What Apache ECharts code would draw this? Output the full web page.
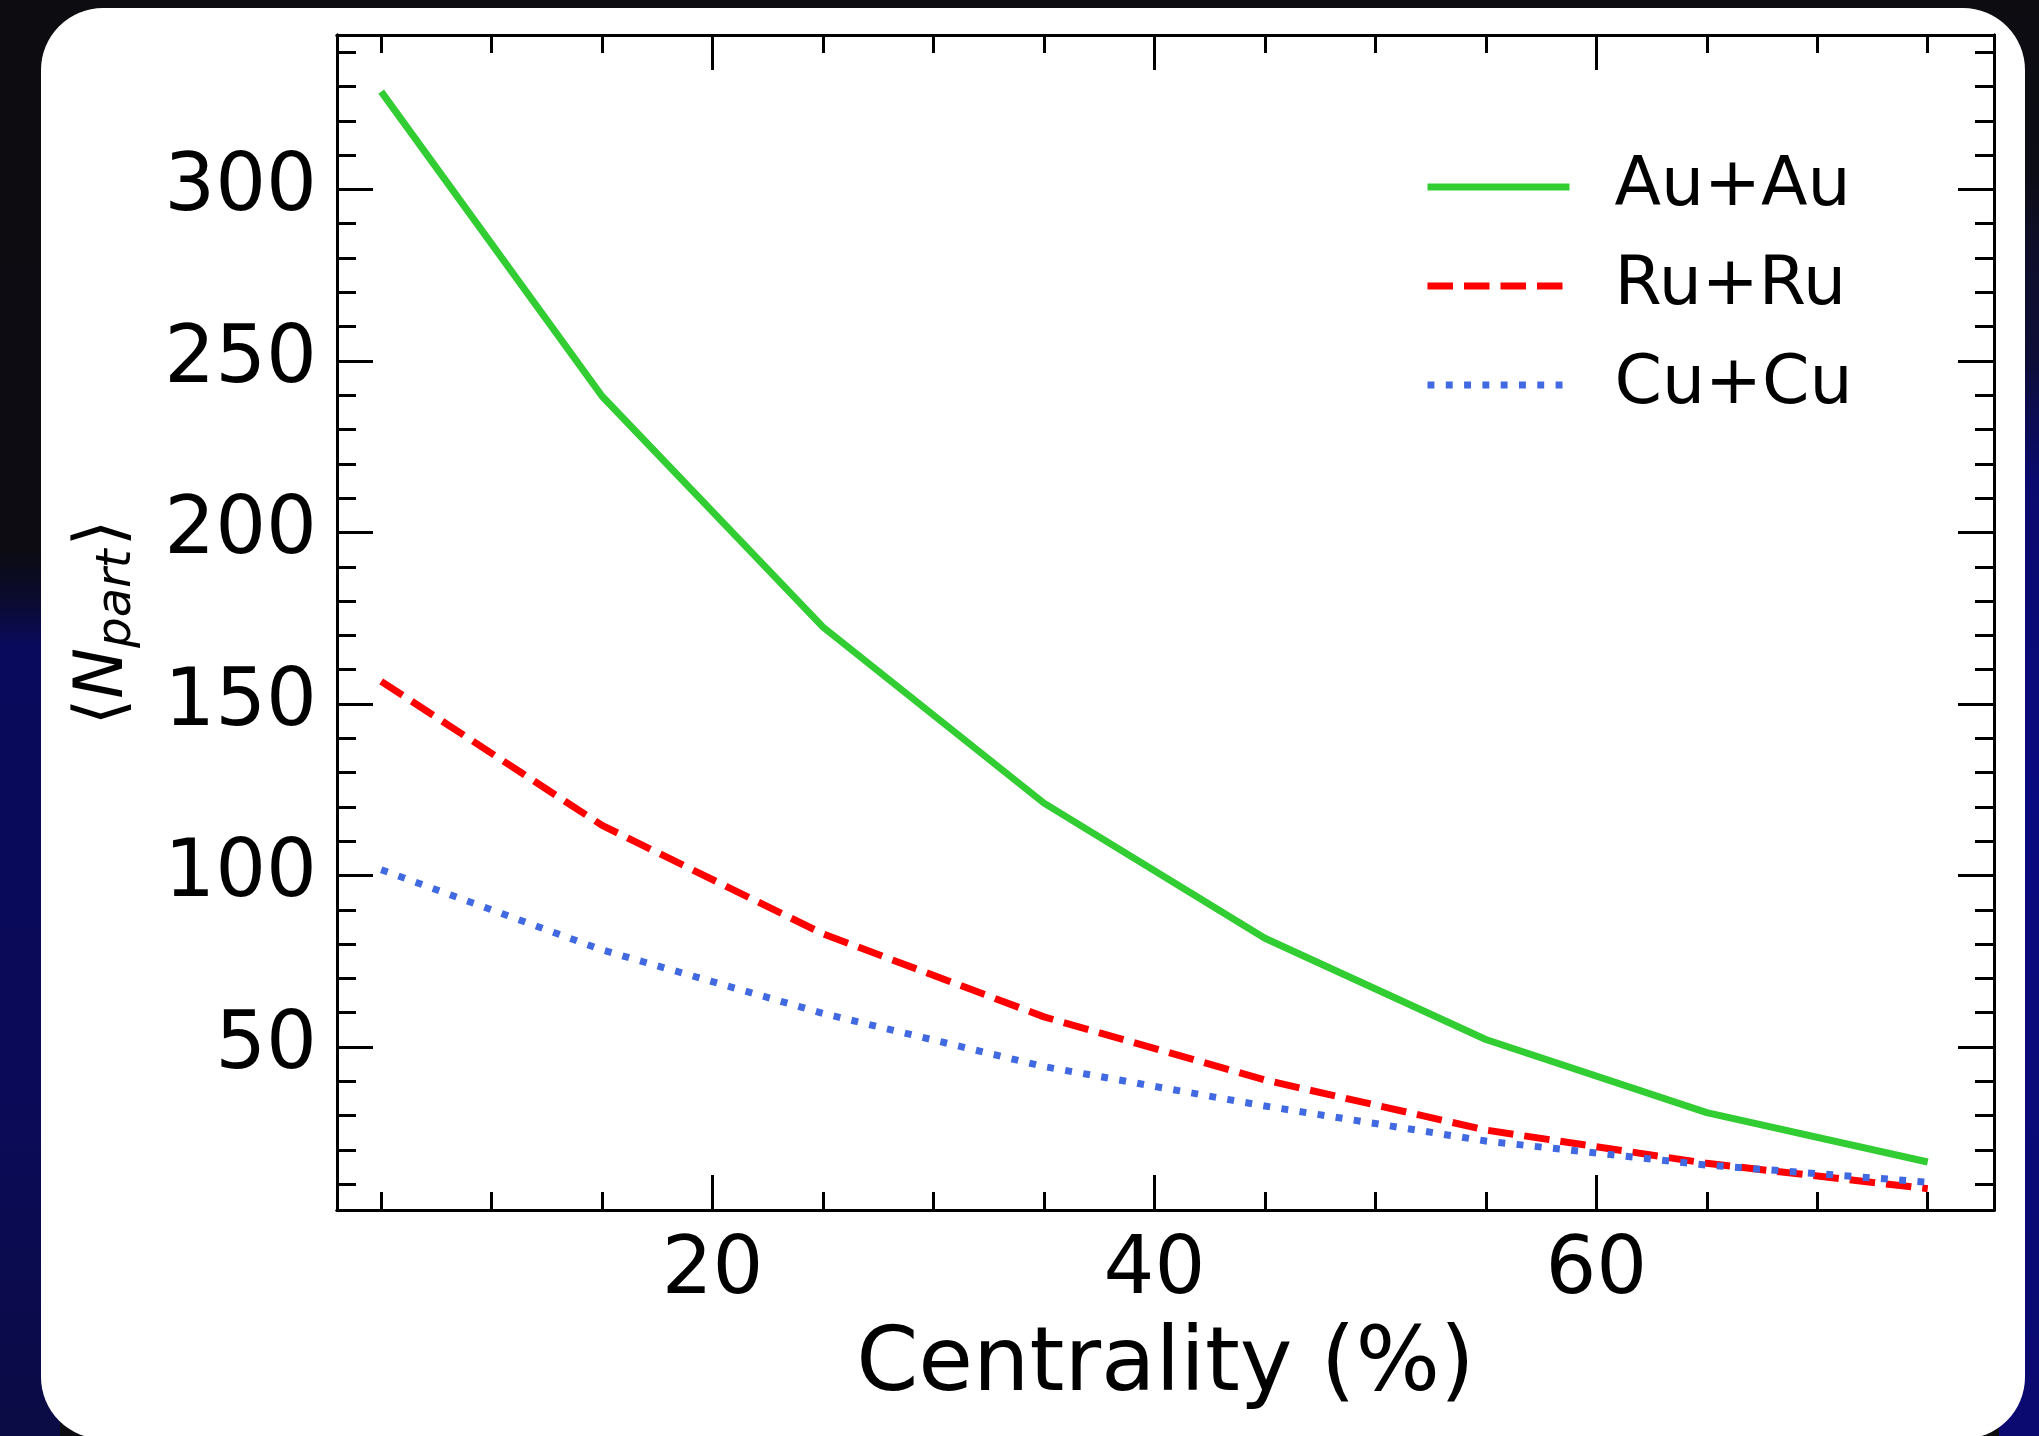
<!DOCTYPE html>
<html>
<head>
<meta charset="utf-8">
<script src="https://cdn.jsdelivr.net/npm/echarts@6/dist/echarts.min.js"></script>
<style>
  html, body { margin: 0; padding: 0; width: 2039px; height: 1436px; overflow: hidden; background: #0c0c11; }
  #leftbg { position: absolute; left: 0; top: 0; width: 60px; height: 1436px;
    background: linear-gradient(to bottom, #0c0c11 0px, #0c0c12 550px, #0b0b30 600px, #0a0a5c 645px, #0a0a58 1100px, #0b0b45 1436px); }
  #rightbg { position: absolute; right: 0; top: 0; width: 40px; height: 1436px;
    background: linear-gradient(to bottom, #0c0c11 0px, #0d0d16 170px, #0e0e2a 250px, #0d0d38 360px, #0a0a6e 480px, #0a0a80 800px, #0a0a70 1436px); }
  #panel { position: absolute; left: 41px; top: 8px; width: 1984px; height: 1431px; background: #ffffff; border-radius: 62px; }
  #chart { position: absolute; left: 0; top: 0; width: 2039px; height: 1436px; }
</style>
</head>
<body>
<div id="leftbg"></div>
<div id="rightbg"></div>
<div id="panel"></div>
<div id="chart"></div>
<script>
// ---- data ----
const centrality = [5, 15, 25, 35, 45, 55, 65, 75];
const auAu = [328.5, 239.7, 172.4, 121.1, 81.7, 52.2, 30.9, 16.5];
const ruRu = [156.6, 114.6, 83.0, 58.8, 40.4, 25.8, 16.1, 8.7];
const cuCu = [101.7, 78.3, 59.8, 44.3, 32.8, 22.6, 15.6, 10.6];
const seriesNames = ['Au+Au', 'Ru+Ru', 'Cu+Cu'];
const xMajorTicks = [20, 40, 60];
const xMinorTicks = [5, 10, 15, 25, 30, 35, 45, 50, 55, 65, 70, 75];
const yMajorTicks = [50, 100, 150, 200, 250, 300];
const yMinorTicks = [10, 20, 30, 40, 60, 70, 80, 90, 110, 120, 130, 140, 160, 170, 180, 190,
                     210, 220, 230, 240, 260, 270, 280, 290, 310, 320, 330, 340];
const xRange = [3, 78];
const yRange = [2.5, 345];

const FONT = 'DejaVu Sans';
const BLACK = '#000000';

function pairs(xs, ys) { return xs.map((x, i) => [x, ys[i]]); }

function xAx(position, ticks, len, showLabel) {
  return {
    type: 'value', min: xRange[0], max: xRange[1], position: position,
    axisLine: { show: true, onZero: false, lineStyle: { color: BLACK, width: 3 } },
    axisTick: { show: true, inside: true, length: len, customValues: ticks, lineStyle: { color: BLACK, width: 3 } },
    axisLabel: showLabel ? { show: true, customValues: ticks, fontSize: 80, color: BLACK, fontFamily: FONT, margin: 22 } : { show: false },
    splitLine: { show: false }
  };
}
function yAx(position, ticks, len, showLabel) {
  return {
    type: 'value', min: yRange[0], max: yRange[1], position: position,
    axisLine: { show: true, onZero: false, lineStyle: { color: BLACK, width: 3 } },
    axisTick: { show: true, inside: true, length: len, customValues: ticks, lineStyle: { color: BLACK, width: 3 } },
    axisLabel: showLabel ? { show: true, customValues: ticks, fontSize: 80, color: BLACK, fontFamily: FONT, margin: 20 } : { show: false },
    splitLine: { show: false }
  };
}

const xMain = xAx('bottom', xMajorTicks, 35, true);
xMain.name = 'Centrality (%)';
xMain.nameLocation = 'middle';
xMain.nameGap = 112;
xMain.nameTextStyle = { fontSize: 89, color: BLACK, fontFamily: FONT };

const yMain = yAx('left', yMajorTicks, 36, true);
yMain.name = '{b|\u27E8}{n|N}{s|part}{b|\u27E9}';
yMain.nameLocation = 'middle';
yMain.nameRotate = 90;
yMain.nameGap = 195;
yMain.nameTextStyle = {
  color: BLACK, fontFamily: FONT, fontSize: 68,
  rich: {
    b: { fontSize: 68, fontFamily: FONT, color: BLACK },
    n: { fontSize: 68, fontFamily: FONT, fontStyle: 'italic', color: BLACK },
    s: { fontSize: 48, fontFamily: FONT, fontStyle: 'italic', color: BLACK, padding: [28, 3, 0, 0] }
  }
};

const chart = echarts.init(document.getElementById('chart'), null, { renderer: 'canvas' });
chart.setOption({
  animation: false,
  backgroundColor: 'transparent',
  grid: { left: 337, right: 45, top: 35, bottom: 226, containLabel: false },
  xAxis: [
    xMain,
    xAx('bottom', xMinorTicks, 18, false),
    xAx('top', xMajorTicks, 35, false),
    xAx('top', xMinorTicks, 18, false)
  ],
  yAxis: [
    yMain,
    yAx('left', yMinorTicks, 19, false),
    yAx('right', yMajorTicks, 36, false),
    yAx('right', yMinorTicks, 19, false)
  ],
  legend: {
    data: seriesNames,
    orient: 'vertical',
    left: 1424, top: 153, padding: 0,
    itemWidth: 142, itemHeight: 7, itemGap: 31,
    itemStyle: { opacity: 0 },
    lineStyle: { width: 7 },
    textStyle: { fontSize: 68, fontFamily: FONT, color: BLACK, lineHeight: 68, padding: [0, 0, 0, 40] }
  },
  series: [
    { name: seriesNames[0], type: 'line', data: pairs(centrality, auAu), symbol: 'none', showSymbol: false,
      lineStyle: { color: '#32CD32', width: 7, type: 'solid', cap: 'butt', join: 'round' }, itemStyle: { color: '#32CD32' } },
    { name: seriesNames[1], type: 'line', data: pairs(centrality, ruRu), symbol: 'none', showSymbol: false,
      lineStyle: { color: '#FF0000', width: 7, type: [25.5, 11], cap: 'butt' }, itemStyle: { color: '#FF0000' } },
    { name: seriesNames[2], type: 'line', data: pairs(centrality, cuCu), symbol: 'none', showSymbol: false,
      lineStyle: { color: '#4169E1', width: 7, type: [6.9, 11.4], cap: 'butt' }, itemStyle: { color: '#4169E1' } }
  ]
});
</script>
</body>
</html>
